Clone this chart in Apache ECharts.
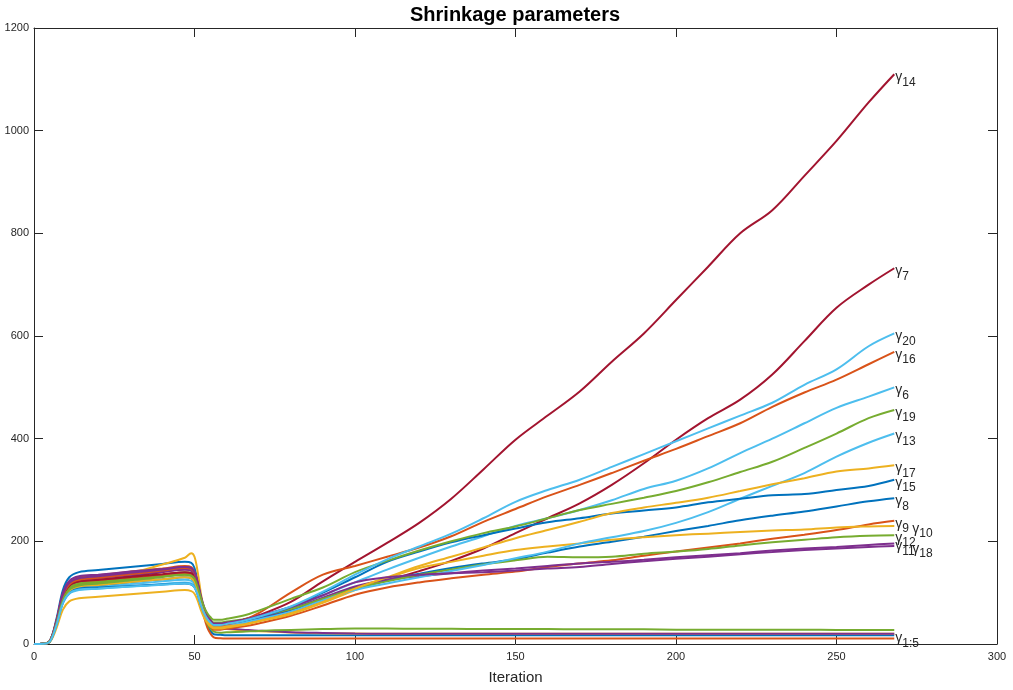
<!DOCTYPE html>
<html><head><meta charset="utf-8">
<script src="https://cdn.jsdelivr.net/npm/echarts@6/dist/echarts.min.js"></script>
<style>html,body{margin:0;padding:0;background:#fff}#c{width:1013px;height:690px}</style>
</head><body><div id="c"></div>
<script>
// iteration positions shared by all series (early 19 points + late 24 points)
const iters = [0,3,5,7,9,11,14,20,30,40,47,49,50,51,52,53,54,55,56,
  58,60,65,70,80,90,100,110,120,130,140,150,160,170,180,190,200,210,220,230,240,250,260,268];

const g1 = [0,0.5,7,49,105,130,140,144,150,156,160,158,148,122,86,58,38,25,19,
  18,17,17,17,17,17,17,17,17,17,17,17,17,17,17,17,17,17,17,17,17,17,17,17];
const g2 = [0,0.5,6.5,45.5,97.5,121,130,134,141,147,152,150,140,115,80,52,32,20,13,
  11,10.5,10.5,10.5,10.5,10.5,10.5,10.5,10.5,10.5,10.5,10.5,10.5,10.5,10.5,10.5,10.5,10.5,10.5,10.5,10.5,10.5,10.5,10.5];
const g3 = [0,0.5,6,43,93,115,124,128,138,155,168,177,170,140,98,64,44,34,31,
  30,29,27,25,22.5,21,20.5,20,20,20,20,20,20,20,20,20,20,20,20,20,20,20,20,20];
const g4 = [0,0.5,6.6,46,99,123,132,135,141,146,150,148,140,118,88,65,50,40,34,
  31,30,28,26,23,21.5,20.5,20,20,20,20,20,20,20,20,20,20,20,20,20,20,20,20,20];
const g5 = [0,0.5,5.8,41,87,108,116,120,127,134,140,138,130,108,80,57,40,30,24,
  22,23,24,25.5,27.5,29,30,30,29.5,29.5,29,29,29,28.5,28.5,28.5,28,28,28,28,28,27.5,27.5,27.5];
const g6 = [0,0.4,5.5,38.5,82.5,102,110,113,117,122,125,123,117,101,80,62,50,42,37,
  37,39,44,52,70,95,120,145,168,190,210,230,245,261,280,302,318,342,372,400,430,460,482,500];
const g7 = [0,0.5,6,42,90,112,120,124.5,132,140,145,143,135,116,89,67,51,41,35,
  35,36,40,48,62,82,108,124,142,162,186,216,245,274,310,352,398,440,476,525,590,655,700,732];
const g8 = [0,0.4,5.6,39,84,104,112,115,121,126,130,128,121,105,81,62,49,41,35,
  35,37,42,50,66,88,110,125,137,148,157,165,178,190,199,209,220,230,241,250,258,268,278,284];
const g9 = [0,0.5,5.9,41,88.5,110,118,121.6,127.6,133.8,138,136,128,109,81.5,60,44,34,28,
  28,30,34,40,55,75,96,110,120,128,135,141,150,157,163,172,180,188,196,205,213,222,233,240];
const g10 = [0,0.4,4.5,31,67,83,89,92,97,101.6,105,103,98,84.5,66,51,41,34,30,
  30,32,37,44,58,80,105,128,148,160,172,183,190,196,203,208,212,215,218,221,223,227,229,230];
const g11 = [0,0.5,6.3,44,94,116,125,128.6,134.6,140.8,145,143,136,116.5,90,69,54,44,38,
  38,40,45,52,68,90,112,125,132,138,143,147,152,157,160,164,169,173,177,182,186,189,193,196];
const g12 = [0,0.5,5.9,41,88.5,110,118,121,126,131.4,135,133,126.6,110,87,69,56,47.5,42,
  42,44,48,55,68,88,108,122,135,145,155,163,170,169,170,176,180,185,192,198,203,208,211,212];
const g13 = [0,0.4,5.3,37,79,98,105,107.7,112,116.8,120,118,112,97,76,59,47,40,35,
  35,37,41,48,63,85,105,118,130,142,154,167,180,196,208,220,236,257,283,308,333,365,392,410];
const g14 = [0,0.5,6.1,42.7,91.5,113.5,122,125,130.6,136,140,138,131,113,87.5,67,53,44,38,
  38,40,47,56,82,122,160,197,236,283,340,398,445,492,550,605,670,735,800,845,912,980,1055,1110];
const g15 = [0,0.4,5.4,38,81,100,108,110,113,116,118,116,110.5,96,76.5,60.7,49.6,42.5,38,
  38,40,45,53,72,100,130,160,180,198,212,225,237,245,254,260,266,276,283,290,292,300,308,320];
const g16 = [0,0.5,6.3,44,94,116,125,129,136,143,148,146,138,118,90.5,68,53,43,36,
  36,38,46,60,100,135,152,170,188,210,238,263,288,310,333,357,380,405,430,462,490,515,545,569];
const g17 = [0,0.4,5.6,39,84,104,112,115,121,126,130,128,121,104,79.5,60,46.5,37.8,32,
  32,34,38,45,60,82,108,130,152,170,188,206,222,238,255,266,275,285,298,311,323,336,342,348];
const g18 = [0,0.5,6.4,45,96,119,128,132,138.6,145,150,148,140,121,93.5,72,56.4,46.6,40,
  40,42,47,55,72,95,120,130,135,138,140,143,147,150,156,161,166,170,175,179,183,186,189,191];
const g19 = [0,0.5,5.7,40,85.5,106,114,117.8,124,130.6,135,133,127,111,89.5,72,60,52,47,
  47,49,55,65,88,110,140,162,182,200,216,229,245,261,273,285,298,315,335,355,382,410,440,456];
const g20 = [0,0.4,5.3,37,79.5,98.6,106,108,111.8,115.5,118,116,110,96,76,60,49,41.6,37,
  37,39,45,53,73,102,135,165,190,215,245,277,300,320,345,370,395,420,445,470,505,535,580,605];

const seriesValues = [g1,g2,g3,g4,g5,g6,g7,g8,g9,g10,g11,g12,g13,g14,g15,g16,g17,g18,g19,g20];
// end-of-line label subscripts ('' = no label)
const labelSubs = ['1:5','','','','','6','7','8','9','10','11','12','13','14','15','16','17','18','19','20'];
const xTicks = [0,50,100,150,200,250,300];
const yTicks = [0,200,400,600,800,1000,1200];

const palette = ['#0072BD','#D95319','#EDB120','#7E2F8E','#77AC30','#4DBEEE','#A2142F'];
const ink = '#262626';
const narrow = "'Liberation Sans Narrow','Liberation Sans',Arial,sans-serif";

const series = seriesValues.map((vals, i) => {
  const sub = labelSubs[i];
  const shifted = (sub === '10' || sub === '18');
  return {
    name: 'γ' + (i + 1),
    type: 'line',
    data: vals.map((v, k) => [iters[k], v]),
    showSymbol: false,
    symbol: 'none',
    smooth: 0.35,
    lineStyle: { width: 2, color: palette[i % 7] },
    itemStyle: { color: palette[i % 7] },
    emphasis: { disabled: true },
    endLabel: {
      show: sub !== '',
      formatter: '{g|γ}{s|' + sub + '}',
      distance: 1,
      offset: [shifted ? 17 : 0, 5],
      rich: {
        g: { fontSize: 14, fontFamily: "'Liberation Sans',Arial", color: ink, verticalAlign: 'top', lineHeight: 12 },
        s: { fontSize: 12, fontFamily: "'Liberation Sans',Arial", color: ink, verticalAlign: 'bottom', lineHeight: 18 }
      }
    }
  };
});

const axisCommon = {
  axisLine: { show: true, onZero: false, lineStyle: { color: ink, width: 1 } },
  axisTick: { show: true, inside: true, length: 9, lineStyle: { color: ink, width: 1 } },
  splitLine: { show: false }
};

const chart = echarts.init(document.getElementById('c'), null, { renderer: 'canvas' });
chart.setOption({
  backgroundColor: '#fff',
  animation: false,
  title: {
    text: 'Shrinkage parameters',
    left: 405, top: 0,
    textStyle: { fontSize: 20, fontWeight: 'bold', color: '#000', fontFamily: narrow }
  },
  grid: { left: 34, right: 16, top: 28, bottom: 46, containLabel: false },
  xAxis: [
    Object.assign({
      type: 'value', min: xTicks[0], max: xTicks[xTicks.length - 1], interval: 50, position: 'bottom',
      axisLabel: { color: ink, fontSize: 11, fontFamily: narrow, margin: 7, formatter: v => String(v) },
      name: 'Iteration', nameLocation: 'middle', nameGap: 26,
      nameTextStyle: { fontSize: 15, color: ink, fontFamily: narrow }
    }, axisCommon),
    Object.assign({
      type: 'value', min: xTicks[0], max: xTicks[xTicks.length - 1], interval: 50, position: 'top',
      axisLabel: { show: false }
    }, axisCommon)
  ],
  yAxis: [
    Object.assign({
      type: 'value', min: yTicks[0], max: yTicks[yTicks.length - 1], interval: 200, position: 'left',
      axisLabel: { color: ink, fontSize: 11, fontFamily: narrow, margin: 5, formatter: v => String(v) }
    }, axisCommon),
    Object.assign({
      type: 'value', min: yTicks[0], max: yTicks[yTicks.length - 1], interval: 200, position: 'right',
      axisLabel: { show: false }
    }, axisCommon)
  ],
  series: series
});
</script></body></html>
